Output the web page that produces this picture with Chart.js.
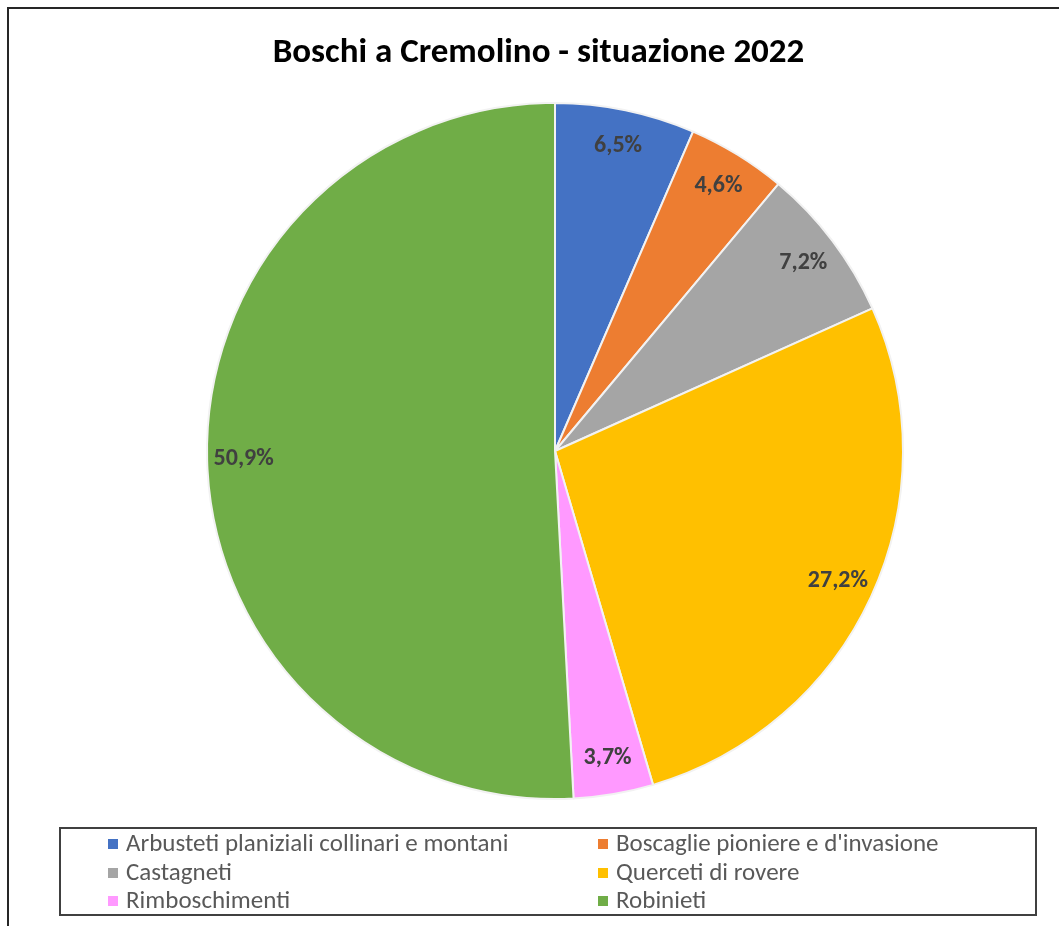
<!DOCTYPE html>
<html><head><meta charset="utf-8">
<script src="https://cdn.jsdelivr.net/npm/chart.js@4.4.1/dist/chart.umd.min.js"></script>
<style>
html,body{margin:0;padding:0;background:#fff;overflow:hidden}
body{width:1059px;height:926px;position:relative;font-family:Carlito,Calibri,"Liberation Sans Narrow","DejaVu Sans Condensed","Open Sans",sans-serif}
#frame{position:absolute;left:7px;top:7px;width:1080px;height:960px;border:2px solid #262626;box-sizing:border-box}
#c{position:absolute;left:0;top:0}
#title{position:absolute;left:0;width:1077px;top:29px;text-align:center;font-weight:bold;font-size:35px;line-height:43px;color:#000;white-space:nowrap}
#legend{position:absolute;left:59px;top:827px;width:978px;height:89px;border:2px solid #404040;box-sizing:border-box}
.item{position:absolute;height:28px;line-height:28px;font-size:25px;color:#595959;white-space:nowrap}
.item i{display:inline-block;width:10px;height:10px;margin-right:8px;vertical-align:2px}
</style></head>
<body>
<div id="frame"></div>
<canvas id="c" width="1059" height="926"></canvas>
<div id="title">Boschi a Cremolino - situazione 2022</div>
<div id="legend"></div>
<script>
const titleText = "Boschi a Cremolino - situazione 2022";
const categories = [
  "Arbusteti planiziali collinari e montani",
  "Boscaglie pioniere e d'invasione",
  "Castagneti",
  "Querceti di rovere",
  "Rimboschimenti",
  "Robinieti"
];
const percentages = [6.5, 4.6, 7.2, 27.2, 3.7, 50.9];
const sliceColors = ["#4472C4", "#ED7D31", "#A5A5A5", "#FFC000", "#FF99FF", "#70AD47"];

document.getElementById('title').textContent = titleText;

// HTML legend, two columns
categories.forEach((name, i) => {
  const col = i % 2, row = Math.floor(i / 2);
  const d = document.createElement('div');
  d.className = 'item';
  d.style.left = (108 + col * 490) + 'px';
  d.style.top = (829 + row * 28.5) + 'px';
  const m = document.createElement('i');
  m.style.background = sliceColors[i];
  d.appendChild(m);
  d.appendChild(document.createTextNode(name));
  document.body.appendChild(d);
});

const fmt = v => v.toFixed(1).replace('.', ',') + '%';
const labelFont = getComputedStyle(document.body).fontFamily;

const pctLabels = {
  id: 'pctLabels',
  afterDatasetsDraw(chart) {
    const ctx = chart.ctx;
    const meta = chart.getDatasetMeta(0);
    ctx.save();
    ctx.font = 'bold 24px ' + labelFont;
    ctx.fillStyle = '#404040';
    ctx.textAlign = 'center';
    ctx.textBaseline = 'middle';
    meta.data.forEach((arc, i) => {
      const p = arc.getProps(['x', 'y', 'startAngle', 'endAngle', 'outerRadius'], true);
      const a = (p.startAngle + p.endAngle) / 2;
      const r = p.outerRadius * 0.895;
      ctx.fillText(fmt(percentages[i]), p.x + Math.cos(a) * r, p.y + Math.sin(a) * r);
    });
    ctx.restore();
  }
};

new Chart(document.getElementById('c'), {
  type: 'pie',
  data: {
    labels: categories,
    datasets: [{
      data: percentages,
      backgroundColor: sliceColors,
      borderColor: '#F2F2F2',
      borderWidth: 2
    }]
  },
  options: {
    responsive: false,
    animation: false,
    layout: { padding: { left: 206, top: 102, right: 155, bottom: 126 } },
    plugins: {
      legend: { display: false },
      title: { display: false },
      tooltip: { enabled: false }
    }
  },
  plugins: [pctLabels]
});
</script>
</body></html>
